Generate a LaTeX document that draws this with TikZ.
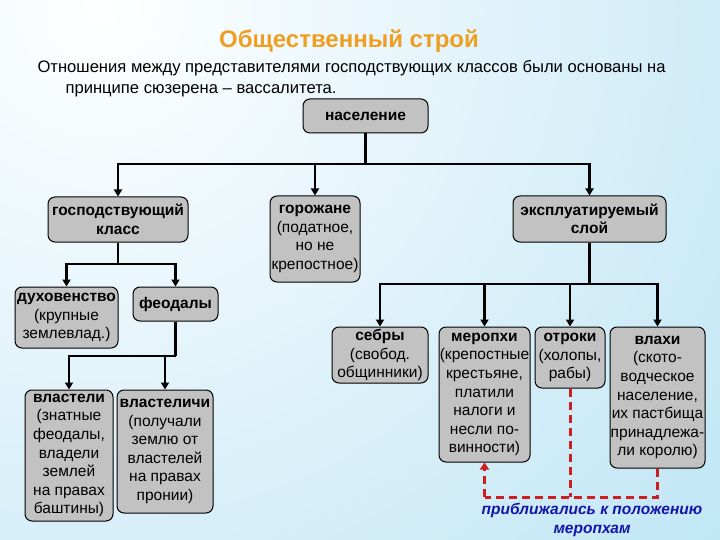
\documentclass[tikz,border=0pt]{standalone}
\usepackage{fontspec}
\setmainfont{Liberation Sans}
\usetikzlibrary{arrows.meta,calc}
\definecolor{boxgray}{RGB}{194,194,194}
\definecolor{titleor}{RGB}{238,158,32}
\definecolor{redd}{RGB}{205,30,35}
\definecolor{blued}{RGB}{20,20,170}
\definecolor{bgblue}{RGB}{192,230,245}
\tikzset{
  box/.style={draw=black, line width=1pt, fill=boxgray, rounded corners=7pt, align=center,
    inner sep=0pt, font=\fontsize{15.5}{18.6}\selectfont},
  arr/.style={line width=2.6pt, -{Triangle[width=8pt,length=7pt]}},
  ln/.style={line width=2.6pt},
  rdash/.style={draw=redd, line width=3pt, dash pattern=on 8pt off 5pt},
}
\begin{document}
\begin{tikzpicture}[x=1pt,y=-1pt]
\useasboundingbox (0,0) rectangle (720,540);
\begin{scope}
\clip (0,0) rectangle (720,540);
\fill[bgblue] (0,0) rectangle (720,540);
\shade[inner color=white, outer color=bgblue] (100,10) circle (820);
\end{scope}
% title
\node[anchor=base, text=titleor, font=\fontsize{24}{28}\bfseries\selectfont] (title) at (349,48) {Общественный строй};
\node[anchor=base west, font=\fontsize{16.6}{20}\selectfont] (p1) at (34,73) {Отношения между представителями господствующих классов были основаны на};
\node[anchor=base west, font=\fontsize{16.6}{20}\selectfont] (p2) at (62,94) {принципе сюзерена – вассалитета.};
% boxes
\node[box, minimum width=125pt, minimum height=34pt] (nas) at (365.5,116) {\textbf{население}};
\node[box, minimum width=140pt, minimum height=45pt] (gosp) at (118,219.5) {\textbf{господствующий}\\\textbf{класс}};
\node[box, minimum width=90pt, minimum height=86pt] (gor) at (315,239) {\textbf{горожане}\\(податное,\\но не\\крепостное)};
\node[box, minimum width=153pt, minimum height=46pt] (eks) at (589.5,219) {\textbf{эксплуатируемый}\\\textbf{слой}};
\node[box, minimum width=103pt, minimum height=61pt] (duh) at (66.5,317.5) {\textbf{духовенство}\\(крупные\\землевлад.)};
\node[box, minimum width=85pt, minimum height=34pt] (feo) at (175.5,304) {\textbf{феодалы}};
\node[box, minimum width=88pt, minimum height=131pt] (vlas) at (69,455.5) {\textbf{властели}\\(знатные\\феодалы,\\владели\\землей\\на правах\\баштины)};
\node[box, minimum width=96pt, minimum height=123pt] (vlich) at (165,451.5) {\textbf{властеличи}\\(получали\\землю от\\властелей\\на правах\\пронии)};
\node[box, minimum width=96pt, minimum height=56pt] (sebr) at (380,355) {\textbf{себры}\\(свобод.\\общинники)};
\node[box, minimum width=91pt, minimum height=135pt] (mer) at (484.5,394.5) {\textbf{меропхи}\\(крепостные\\крестьяне,\\платили\\налоги и\\несли по-\\винности)};
\node[box, minimum width=70pt, minimum height=61pt] (otr) at (570,357.5) {\textbf{отроки}\\(холопы,\\рабы)};
\node[box, minimum width=95pt, minimum height=141pt] (vlah) at (657.5,397.5) {\textbf{влахи}\\(ското-\\водческое\\население,\\их пастбища\\принадлежа-\\ли королю)};
% bus coordinates
\coordinate (b1) at (0,164);
\coordinate (b2) at (0,264);
\coordinate (b3) at (0,356);
\coordinate (b4) at (0,284);
\coordinate (b5) at (0,497);
% connectors
\draw[ln] (nas.south) -- (nas.south |- b1);
\draw[arr] (nas.south |- b1) -| (gosp.north);
\draw[arr] (nas.south |- b1) -| (eks.north);
\draw[arr] (gor.north |- b1) -- (gor.north);
\draw[ln] (gosp.south) -- (gosp.south |- b2);
\draw[arr] (gosp.south |- b2) -| (duh.north);
\draw[arr] (gosp.south |- b2) -| (feo.north);
\draw[ln] (feo.south) -- (feo.south |- b3);
\draw[arr] (feo.south |- b3) -| (vlas.north);
\draw[arr] (feo.south |- b3) -| (vlich.north);
\draw[ln] (eks.south) -- (eks.south |- b4);
\draw[arr] (eks.south |- b4) -| (sebr.north);
\draw[arr] (eks.south |- b4) -| (vlah.north);
\draw[arr] (mer.north |- b4) -- (mer.north);
\draw[arr] (otr.north |- b4) -- (otr.north);
% red dashed
\draw[rdash] (otr.south) -- (otr.south |- b5);
\draw[rdash] (vlah.south) -- (vlah.south |- b5) -- (mer.south |- b5);
\draw[rdash, -{Triangle[width=9pt,length=7pt]}] (mer.south |- b5) -- (mer.south);
\node[anchor=base, text=blued, font=\fontsize{15.5}{18}\bfseries\itshape\selectfont] (note1) at (592,514) {приближались к положению};
\node[anchor=base, text=blued, font=\fontsize{15.5}{18}\bfseries\itshape\selectfont] (note2) at (592,533) {меропхам};
\end{tikzpicture}
\end{document}
